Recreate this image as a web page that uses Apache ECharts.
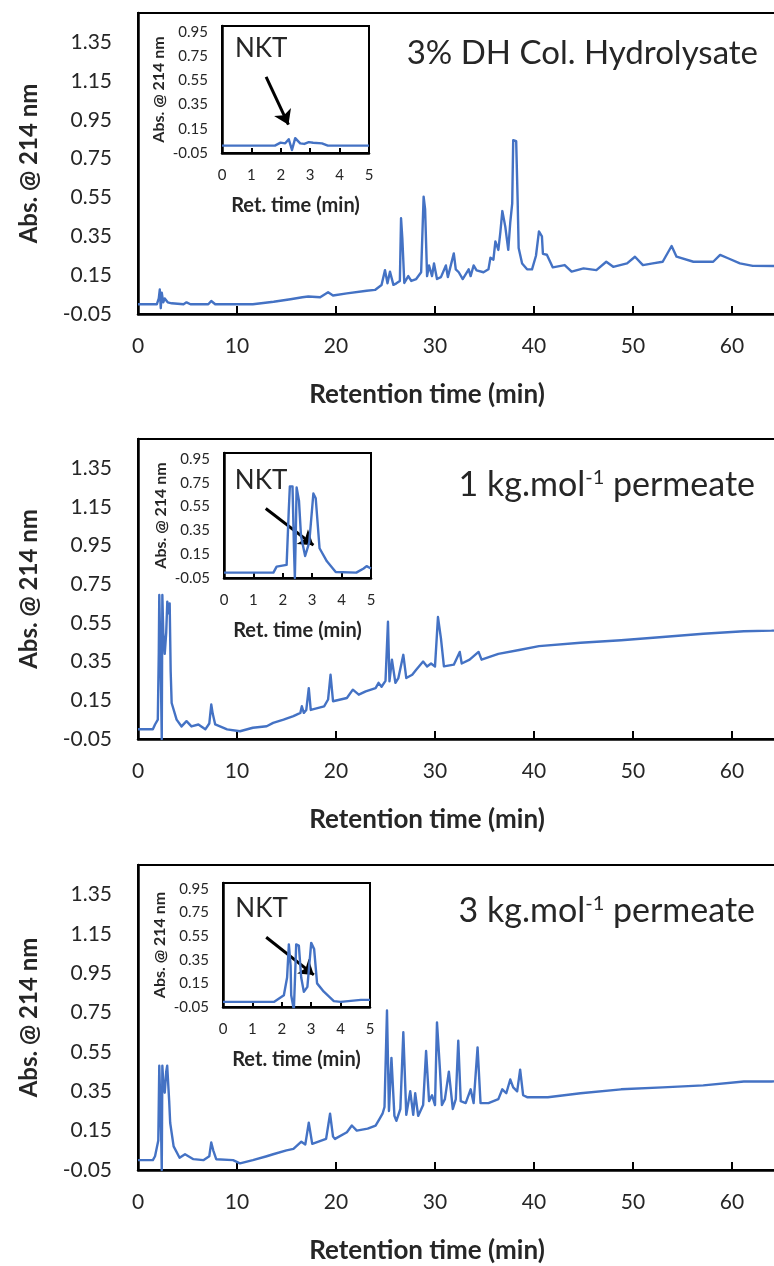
<!DOCTYPE html>
<html><head><meta charset="utf-8">
<script src="https://cdn.jsdelivr.net/npm/echarts@6/dist/echarts.min.js"></script>
<style>html,body{margin:0;padding:0;background:#fff}#c{width:774px;height:1266px}</style>
</head><body><div id="c"></div><script>
// ---------- data ----------
const p1Time=[0,1.9,2.1,2.2,2.3,2.4,2.55,2.7,3.0,3.4,4.6,4.9,5.3,7.1,7.4,7.8,9.8,11.6,13.7,15.4,16.6,17.2,18.4,19.2,19.7,21.1,23.1,23.94,24.6,24.95,25.2,25.45,25.8,26.1,26.45,26.57,26.7,26.9,27.3,27.6,28.1,28.6,28.85,29.0,29.2,29.4,29.7,29.9,30.2,30.6,31.1,31.3,31.9,32.1,32.4,32.8,33.4,33.6,33.9,34.2,34.9,35.4,35.6,35.9,36.1,36.4,36.6,36.8,37.1,37.3,37.4,37.6,37.8,37.9,38.2,38.35,38.45,38.8,39.3,39.8,40.2,40.5,40.8,40.9,41.3,41.5,41.9,43.1,43.8,45.0,46.3,47.3,48.0,49.4,50.2,51.0,52.0,53.0,53.9,54.4,56.1,58.1,58.8,59.6,60.8,62.1,70];
const p1Abs=[0,0,0.03,0.076,-0.02,0.06,0.01,0.03,0.01,0.005,0,0.01,0,0,0.017,0,0,0,0.013,0.026,0.036,0.04,0.036,0.062,0.045,0.056,0.07,0.074,0.099,0.176,0.108,0.168,0.1,0.108,0.12,0.443,0.34,0.11,0.145,0.12,0.13,0.165,0.554,0.49,0.145,0.2,0.145,0.21,0.13,0.14,0.2,0.14,0.262,0.18,0.165,0.13,0.18,0.145,0.2,0.175,0.165,0.18,0.24,0.23,0.324,0.28,0.37,0.48,0.4,0.32,0.28,0.42,0.52,0.845,0.84,0.53,0.29,0.21,0.18,0.18,0.25,0.375,0.35,0.26,0.255,0.26,0.19,0.202,0.168,0.185,0.176,0.219,0.193,0.211,0.245,0.202,0.211,0.219,0.3,0.245,0.219,0.219,0.254,0.237,0.211,0.198,0.195];
const i1Time=[0,1.8,1.99,2.15,2.27,2.38,2.49,2.66,2.8,2.95,3.1,3.4,3.6,5];
const i1Abs=[0.011,0.011,0.036,0.03,0.064,-0.025,0.073,0.03,0.025,0.04,0.035,0.03,0.011,0.011];

const p2Time=[0,1.5,1.72,2.0,2.1,2.15,2.25,2.33,2.4,2.46,2.55,2.7,2.85,2.96,3.1,3.2,3.3,3.4,3.9,4.4,4.9,5.4,6.1,6.8,7.2,7.4,7.55,7.8,9.0,10.3,11.6,13.0,13.65,14.7,15.7,16.4,16.55,16.75,17.0,17.25,17.45,17.6,18.8,19.2,19.45,19.7,19.9,21.1,21.7,22.3,23.0,24.0,24.3,24.6,25.0,25.25,25.4,25.65,26.0,26.3,26.8,27.1,27.7,28.1,28.8,29.2,29.6,30.0,30.3,30.6,30.9,31.9,32.5,32.7,33.5,34.4,34.7,36.4,38.5,40.5,44.7,48.8,53.0,57.1,61.2,64.0,70];
const p2Abs=[0,0,0.025,0.05,0.4,0.694,0.69,0.2,-0.05,0.694,0.5,0.39,0.5,0.66,0.6,0.65,0.3,0.136,0.05,0.015,0.042,0.015,0.025,0,0.03,0.128,0.08,0.025,0,-0.01,0.008,0.016,0.033,0.05,0.068,0.085,0.119,0.085,0.1,0.213,0.1,0.094,0.119,0.154,0.282,0.145,0.136,0.162,0.205,0.179,0.196,0.213,0.24,0.22,0.25,0.556,0.248,0.36,0.24,0.265,0.385,0.265,0.282,0.308,0.35,0.325,0.34,0.325,0.58,0.47,0.325,0.334,0.4,0.34,0.36,0.4,0.36,0.39,0.41,0.43,0.447,0.46,0.477,0.494,0.507,0.51,0.525];
const i2Time=[0,1.68,1.79,2.13,2.2,2.24,2.33,2.38,2.41,2.44,2.47,2.55,2.62,2.76,2.9,3.04,3.12,3.25,3.5,3.8,4.5,4.75,4.85,5.0];
const i2Abs=[-0.005,-0.005,0.045,0.06,0.5,0.72,0.72,0.2,-0.05,0.3,0.71,0.6,0.3,0.135,0.25,0.66,0.62,0.2,0.09,0,-0.005,0.03,0.05,0.03];

const p3Time=[0,1.5,1.72,2.05,2.15,2.28,2.35,2.4,2.46,2.55,2.7,2.85,2.95,3.05,3.15,3.25,3.6,4.2,4.75,5.6,6.6,7.2,7.4,7.6,7.9,9.6,10.3,11.6,13.0,13.65,15.0,15.7,16.5,16.6,16.9,17.25,17.6,19.0,19.4,19.7,19.9,21.1,21.6,22.1,23.2,24.0,24.4,24.7,24.9,25.15,25.35,25.6,25.9,26.1,26.5,26.8,27.1,27.5,27.8,28.0,28.3,28.8,29.1,29.4,29.7,30.0,30.2,30.5,30.7,31.0,31.4,31.8,32.1,32.35,32.6,33.1,33.6,33.9,34.3,34.6,35.4,36.4,36.8,37.2,37.6,37.9,38.3,38.6,38.9,39.3,41.4,44.7,48.8,53.0,57.1,61.2,64.0,70];
const p3Abs=[0,0,0.02,0.1,0.48,0.48,0.1,-0.05,0.48,0.4,0.343,0.45,0.48,0.48,0.3,0.19,0.07,0.012,0.03,0.005,0,0.02,0.09,0.05,0.005,0,-0.016,0,0.02,0.03,0.05,0.057,0.094,0.1,0.08,0.19,0.083,0.108,0.236,0.12,0.108,0.142,0.176,0.15,0.16,0.176,0.21,0.236,0.27,0.761,0.25,0.52,0.225,0.2,0.26,0.65,0.23,0.35,0.23,0.34,0.225,0.28,0.555,0.3,0.33,0.28,0.7,0.46,0.28,0.31,0.45,0.26,0.31,0.607,0.3,0.29,0.36,0.29,0.573,0.29,0.29,0.31,0.36,0.34,0.41,0.37,0.35,0.46,0.33,0.32,0.32,0.34,0.36,0.37,0.38,0.4,0.4,0.41];
const i3Time=[0,1.73,2.07,2.18,2.24,2.3,2.32,2.41,2.45,2.49,2.58,2.66,2.75,2.87,3.0,3.1,3.2,3.43,3.77,4.0,4.69,5.0];
const i3Abs=[-0.007,-0.007,0.05,0.2,0.48,0.3,0.05,-0.075,0.2,0.48,0.47,0.2,0.078,0.12,0.493,0.44,0.15,0.08,0,-0.007,0.01,0.01];

const panelTitles=['3% DH Col. Hydrolysate','1 kg.mol{s|-1} permeate','3 kg.mol{s|-1} permeate'];
const insetLabel='NKT';
const mainAxis={xMin:0,xMax:70,xStep:10,yMin:-0.05,yMax:1.5,yStep:0.2};
const insetAxis={xMin:0,xMax:5,xStep:1,yMin:-0.05,yMax:1.0,yStep:0.2};
const yName='Abs. @ 214 nm', xName='Retention time (min)', insetXName='Ret. time (min)';

// ---------- layout ----------
const FONT='Lato, "Open Sans", sans-serif';
const BLUE='#4472C4', TXT='#262626';
const layout=[
  {top:13,height:301,inset:{left:222,top:26,height:127},titleY:53,titleR:758,titleSize:33,
   arrow:[[1.5,0.58],[2.26,0.184]],nkt:[1.33,0.816]},
  {top:439,height:300,inset:{left:224,top:453,height:125},titleY:485,titleR:755,titleSize:34,
   arrow:[[1.42,0.534],[3.04,0.226]],nkt:[1.26,0.77]},
  {top:865,height:305,inset:{left:223,top:883,height:124},titleY:911,titleR:755,titleSize:34,
   arrow:[[1.47,0.541],[3.09,0.222]],nkt:[1.31,0.78]}
];
const mains=[[p1Time,p1Abs],[p2Time,p2Abs],[p3Time,p3Abs]];
const insets=[[i1Time,i1Abs],[i2Time,i2Abs],[i3Time,i3Abs]];
const zip=(a,b)=>a.map((v,i)=>[v,b[i]]);
const fmt=v=>v.toFixed(2);

const grids=[],xAxes=[],yAxes=[],series=[],graphics=[];
layout.forEach((L,k)=>{
  grids.push({left:138,top:L.top,width:693,height:L.height,show:true,borderColor:'#000',borderWidth:2,
    backgroundColor:'#fff',containLabel:false,outerBoundsMode:'none'});
  grids.push({left:L.inset.left,top:L.inset.top,width:147,height:L.inset.height,show:true,borderColor:'#000',borderWidth:2,
    backgroundColor:'#fff',containLabel:false,outerBoundsMode:'none'});
  const gi=2*k;
  xAxes.push({gridIndex:gi,type:'value',min:mainAxis.xMin,max:mainAxis.xMax,interval:mainAxis.xStep,
    axisLine:{onZero:false,lineStyle:{color:'#000',width:2.5}},
    axisTick:{show:true,inside:true,length:8,lineStyle:{color:'#000',width:2}},
    axisLabel:{fontSize:21,fontFamily:FONT,color:TXT,margin:22},
    splitLine:{show:false},
    name:xName,nameLocation:'middle',nameGap:68,
    nameTextStyle:{fontSize:26,fontWeight:'bold',fontFamily:FONT,color:TXT,padding:[0,115,0,0]}});
  yAxes.push({gridIndex:gi,type:'value',min:mainAxis.yMin,max:mainAxis.yMax,interval:mainAxis.yStep,
    axisLine:{onZero:false,lineStyle:{color:'#000',width:2.5}},
    axisTick:{show:false},
    axisLabel:{fontSize:21,fontFamily:FONT,color:TXT,margin:26,formatter:fmt,showMaxLabel:false},
    splitLine:{show:false},
    name:yName,nameLocation:'middle',nameGap:97,
    nameTextStyle:{fontSize:24,fontWeight:'bold',fontFamily:FONT,color:TXT}});
  xAxes.push({gridIndex:gi+1,type:'value',min:insetAxis.xMin,max:insetAxis.xMax,interval:insetAxis.xStep,
    axisLine:{onZero:false,lineStyle:{color:'#000',width:2.5}},
    axisTick:{show:true,inside:true,length:5,lineStyle:{color:'#000',width:2}},
    axisLabel:{fontSize:15,fontFamily:FONT,color:TXT,margin:15},
    splitLine:{show:false},
    name:insetXName,nameLocation:'middle',nameGap:43,
    nameTextStyle:{fontSize:20,fontWeight:'bold',fontFamily:FONT,color:TXT}});
  yAxes.push({gridIndex:gi+1,type:'value',min:insetAxis.yMin,max:insetAxis.yMax,interval:insetAxis.yStep,
    axisLine:{onZero:false,lineStyle:{color:'#000',width:2.5}},
    axisTick:{show:false},
    axisLabel:{fontSize:15,fontFamily:FONT,color:TXT,margin:14,formatter:fmt,showMaxLabel:false},
    splitLine:{show:false},
    name:yName,nameLocation:'middle',nameGap:55,
    nameTextStyle:{fontSize:16,fontWeight:'bold',fontFamily:FONT,color:TXT}});
  series.push({type:'line',xAxisIndex:gi,yAxisIndex:gi,data:zip(mains[k][0],mains[k][1]),
    showSymbol:false,symbol:'none',lineStyle:{color:BLUE,width:2.4,join:'round'},itemStyle:{color:BLUE}});
  series.push({type:'line',xAxisIndex:gi+1,yAxisIndex:gi+1,data:zip(insets[k][0],insets[k][1]),
    showSymbol:false,symbol:'none',lineStyle:{color:BLUE,width:2.4,join:'round'},itemStyle:{color:BLUE},z:5,
    markLine:{silent:true,symbol:['none','arrow'],symbolSize:14,animation:false,
      itemStyle:{color:'#000'},
      lineStyle:{color:'#000',width:3,type:'solid'},label:{show:false},
      data:[[{coord:L.arrow[0]},{coord:L.arrow[1]}]]},
    markPoint:{silent:true,symbol:'rect',symbolSize:1,itemStyle:{color:'rgba(0,0,0,0)'},animation:false,
      label:{show:true,position:'inside',formatter:insetLabel,color:TXT,fontSize:26,fontFamily:FONT},
      data:[{coord:L.nkt}]}});
  graphics.push({type:'text',x:L.titleR,y:L.titleY,z:10,
    style:{text:panelTitles[k],fill:TXT,fontSize:L.titleSize,fontFamily:FONT,align:'right',verticalAlign:'middle',
      textAlign:'right',textVerticalAlign:'middle',
      rich:{s:{fontSize:20,fontFamily:FONT,fill:TXT,verticalAlign:'top'}}}});
});

const chart=echarts.init(document.getElementById('c'),null,{renderer:'canvas'});
chart.setOption({animation:false,backgroundColor:'#fff',grid:grids,xAxis:xAxes,yAxis:yAxes,series:series,graphic:graphics});
</script></body></html>
